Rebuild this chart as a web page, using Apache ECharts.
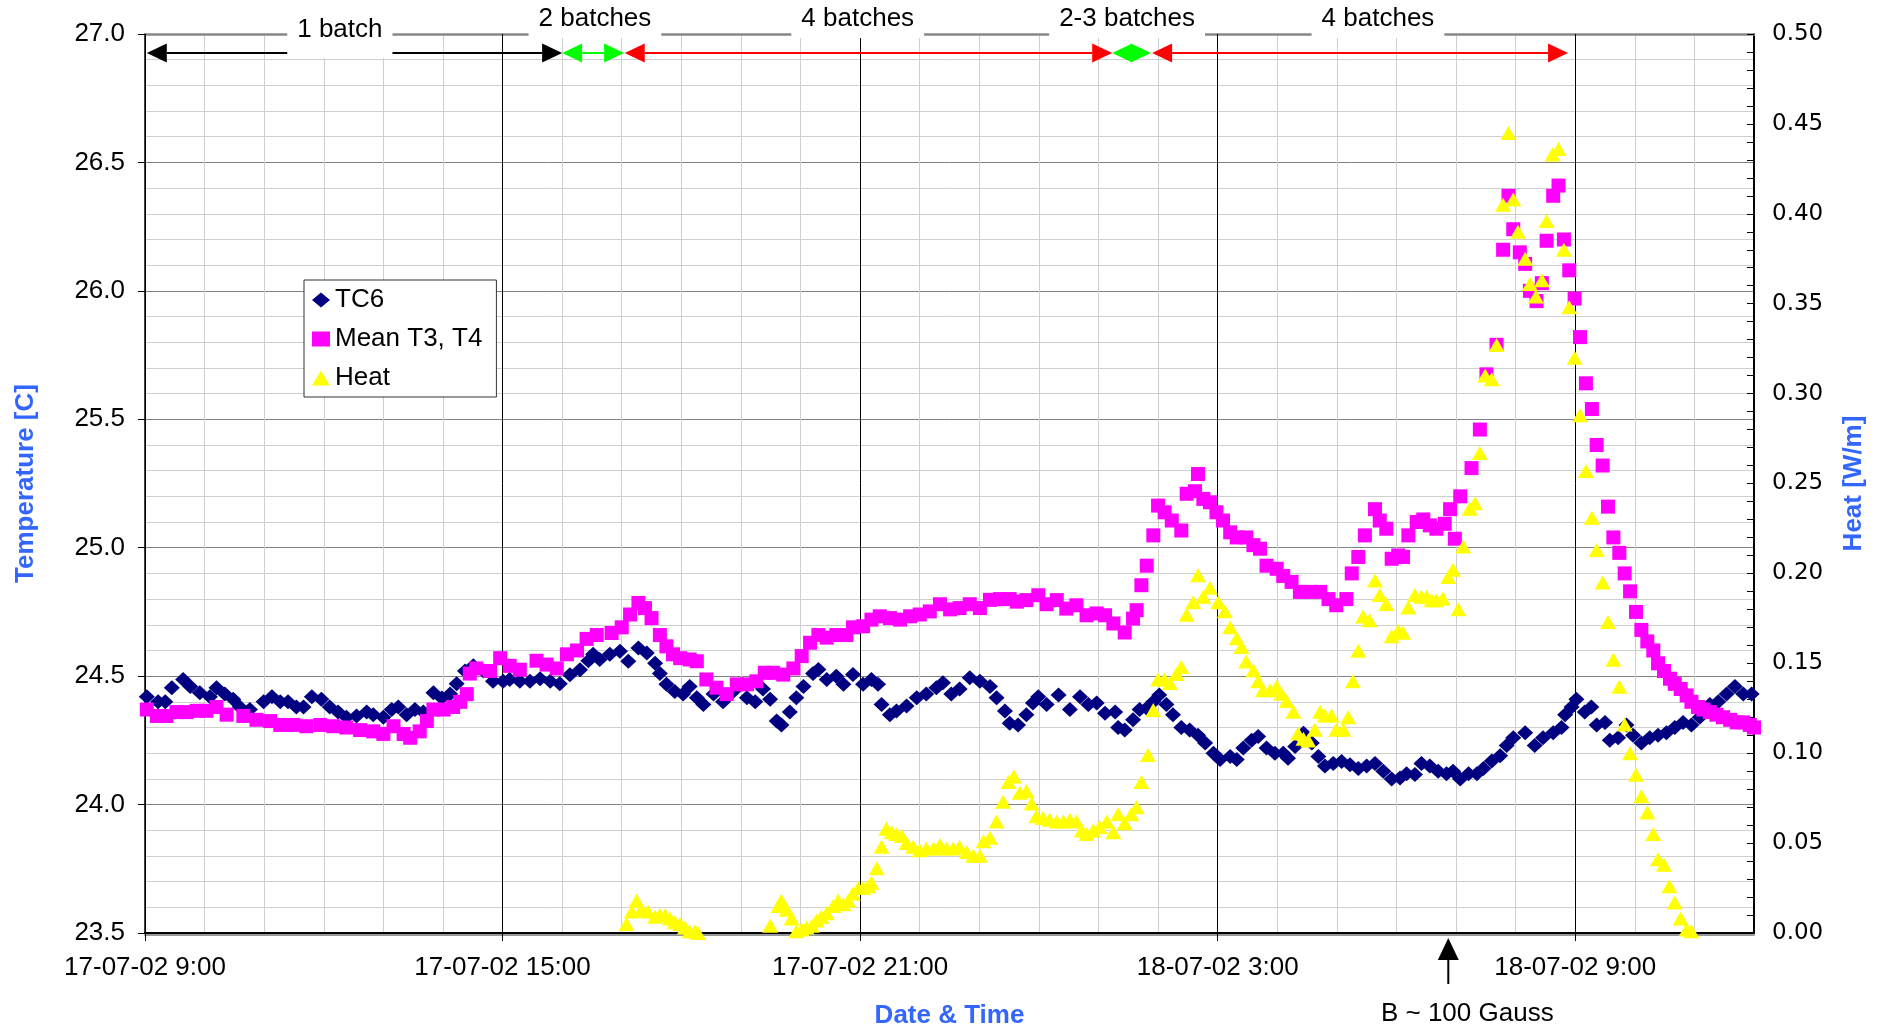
<!DOCTYPE html>
<html>
<head>
<meta charset="utf-8">
<title>TC6 / Mean T3, T4 / Heat</title>
<script src="https://cdn.jsdelivr.net/npm/echarts@6/dist/echarts.min.js"></script>
<style>
  html, body { margin: 0; padding: 0; background: #fff; }
  #chart { width: 1881px; height: 1034px; }
</style>
</head>
<body>
<div id="chart"></div>
<script>
// x values are hours after 17-07-02 9:00
const xTickHours = [0, 6, 12, 18, 24];
const xTickLabels = ['17-07-02 9:00', '17-07-02 15:00', '17-07-02 21:00', '18-07-02 3:00', '18-07-02 9:00'];

const tc6Hours = [
  0.03, 0.22, 0.34, 0.45, 0.64, 0.76, 0.92, 1.09, 1.20, 1.34,
  1.48, 1.59, 1.76, 1.99, 2.13, 2.27, 2.40, 2.54, 2.66, 2.80,
  2.96, 3.10, 3.24, 3.38, 3.55, 3.72, 3.83, 4.00, 4.14, 4.25,
  4.39, 4.53, 4.67, 4.84, 4.98, 5.12, 5.23, 5.37, 5.51, 5.68,
  5.84, 6.01, 6.12, 6.29, 6.46, 6.63, 6.80, 6.96, 7.13, 7.30,
  7.44, 7.52, 7.63, 7.80, 7.97, 8.11, 8.28, 8.42, 8.56, 8.64,
  8.75, 8.89, 9.03, 9.14, 9.26, 9.37, 9.54, 9.70, 9.87, 10.10,
  10.24, 10.37, 10.49, 10.60, 10.68, 10.82, 10.93, 11.05, 11.21, 11.30,
  11.44, 11.60, 11.72, 11.88, 12.05, 12.19, 12.30, 12.36, 12.50, 12.61,
  12.78, 12.95, 13.11, 13.28, 13.39, 13.53, 13.67, 13.84, 14.01, 14.18,
  14.29, 14.43, 14.51, 14.65, 14.79, 14.90, 14.99, 15.13, 15.33, 15.52,
  15.69, 15.83, 15.97, 16.11, 16.28, 16.33, 16.44, 16.58, 16.69, 16.81,
  16.92, 17.02, 17.14, 17.25, 17.39, 17.53, 17.67, 17.79, 17.93, 18.04,
  18.21, 18.32, 18.43, 18.57, 18.68, 18.82, 18.96, 19.10, 19.18, 19.30,
  19.44, 19.58, 19.69, 19.80, 19.94, 20.08, 20.22, 20.36, 20.50, 20.64,
  20.78, 20.92, 21.06, 21.17, 21.31, 21.42, 21.56, 21.70, 21.84, 21.95,
  22.07, 22.21, 22.35, 22.46, 22.60, 22.74, 22.85, 22.96, 23.16, 23.32,
  23.46, 23.63, 23.77, 23.83, 23.94, 24.02, 24.16, 24.27, 24.36, 24.50,
  24.58, 24.72, 24.86, 24.97, 25.11, 25.25, 25.39, 25.53, 25.67, 25.81,
  25.95, 26.09, 26.26, 26.40, 26.54, 26.68, 26.82, 26.96
];
const tc6Values = [
  24.42, 24.40, 24.40, 24.455, 24.487, 24.46, 24.435, 24.42, 24.455, 24.43,
  24.41, 24.38, 24.37, 24.40, 24.42, 24.40, 24.40, 24.38, 24.38, 24.42,
  24.41, 24.38, 24.36, 24.34, 24.345, 24.36, 24.35, 24.34, 24.37, 24.38,
  24.35, 24.37, 24.36, 24.435, 24.415, 24.43, 24.47, 24.52, 24.54, 24.52,
  24.48, 24.48, 24.487, 24.48, 24.48, 24.49, 24.48, 24.47, 24.505, 24.525,
  24.56, 24.585, 24.565, 24.585, 24.597, 24.558, 24.61, 24.59, 24.55, 24.51,
  24.468, 24.44, 24.43, 24.46, 24.416, 24.39, 24.43, 24.40, 24.44, 24.416,
  24.40, 24.45, 24.41, 24.325, 24.31, 24.36, 24.416, 24.46, 24.51, 24.526,
  24.487, 24.50, 24.468, 24.506, 24.468, 24.487, 24.468, 24.39, 24.35, 24.364,
  24.384, 24.416, 24.43, 24.455, 24.474, 24.43, 24.45, 24.494, 24.48, 24.46,
  24.416, 24.364, 24.317, 24.31, 24.35, 24.395, 24.42, 24.39, 24.427, 24.37,
  24.42, 24.39, 24.395, 24.356, 24.36, 24.30, 24.29, 24.33, 24.37, 24.375,
  24.40, 24.427, 24.39, 24.35, 24.30, 24.29, 24.27, 24.24, 24.20, 24.175,
  24.187, 24.175, 24.22, 24.25, 24.265, 24.22, 24.20, 24.20, 24.18, 24.226,
  24.278, 24.24, 24.187, 24.15, 24.16, 24.168, 24.155, 24.14, 24.15, 24.16,
  24.13, 24.10, 24.103, 24.12, 24.117, 24.16, 24.15, 24.13, 24.12, 24.13,
  24.10, 24.12, 24.12, 24.14, 24.17, 24.19, 24.23, 24.26, 24.28, 24.23,
  24.26, 24.28, 24.30, 24.35, 24.38, 24.41, 24.36, 24.38, 24.31, 24.32,
  24.25, 24.26, 24.31, 24.27, 24.24, 24.26, 24.27, 24.28, 24.30, 24.32,
  24.31, 24.34, 24.39, 24.40, 24.43, 24.46, 24.43, 24.43
];

const meanHours = [
  0.03, 0.20, 0.36, 0.53, 0.70, 0.87, 1.03, 1.20, 1.37, 1.65,
  1.87, 2.10, 2.27, 2.49, 2.71, 2.94, 3.16, 3.38, 3.61, 3.83,
  4.00, 4.17, 4.34, 4.45, 4.61, 4.73, 4.84, 5.01, 5.17, 5.29,
  5.40, 5.45, 5.56, 5.79, 5.96, 6.12, 6.29, 6.57, 6.74, 6.91,
  7.08, 7.25, 7.41, 7.58, 7.83, 8.00, 8.14, 8.28, 8.39, 8.50,
  8.64, 8.75, 8.86, 8.98, 9.14, 9.26, 9.42, 9.59, 9.76, 9.93,
  10.10, 10.26, 10.40, 10.54, 10.71, 10.88, 11.02, 11.16, 11.30, 11.44,
  11.60, 11.77, 11.88, 12.05, 12.19, 12.33, 12.50, 12.67, 12.84, 13.00,
  13.17, 13.34, 13.51, 13.67, 13.84, 14.01, 14.18, 14.35, 14.51, 14.63,
  14.79, 14.99, 15.13, 15.30, 15.46, 15.63, 15.80, 15.97, 16.11, 16.25,
  16.44, 16.58, 16.64, 16.72, 16.81, 16.92, 17.00, 17.11, 17.23, 17.39,
  17.48, 17.62, 17.67, 17.76, 17.87, 17.98, 18.09, 18.21, 18.32, 18.48,
  18.60, 18.71, 18.82, 18.99, 19.10, 19.24, 19.38, 19.55, 19.72, 19.86,
  19.99, 20.16, 20.25, 20.36, 20.47, 20.64, 20.72, 20.83, 20.92, 21.03,
  21.11, 21.20, 21.34, 21.45, 21.56, 21.67, 21.81, 21.90, 21.98, 22.07,
  22.26, 22.40, 22.51, 22.68, 22.79, 22.88, 22.96, 23.07, 23.16, 23.24,
  23.35, 23.44, 23.52, 23.63, 23.72, 23.81, 23.90, 23.99, 24.08, 24.18,
  24.28, 24.36, 24.46, 24.55, 24.64, 24.74, 24.83, 24.92, 25.02, 25.11,
  25.21, 25.31, 25.39, 25.49, 25.59, 25.67, 25.77, 25.87, 25.95, 26.06,
  26.15, 26.26, 26.37, 26.48, 26.60, 26.71, 26.82, 26.93, 27.00
];
const meanValues = [
  24.37, 24.345, 24.345, 24.36, 24.36, 24.365, 24.365, 24.38, 24.35, 24.345,
  24.33, 24.325, 24.31, 24.31, 24.305, 24.31, 24.305, 24.30, 24.29, 24.285,
  24.275, 24.305, 24.275, 24.26, 24.285, 24.325, 24.37, 24.37, 24.38, 24.40,
  24.43, 24.51, 24.53, 24.52, 24.57, 24.54, 24.525, 24.56, 24.545, 24.53,
  24.585, 24.60, 24.645, 24.66, 24.668, 24.69, 24.74, 24.785, 24.765, 24.726,
  24.66, 24.616, 24.585, 24.57, 24.565, 24.558, 24.487, 24.455, 24.43, 24.468,
  24.468, 24.48, 24.513, 24.513, 24.506, 24.53, 24.578, 24.63, 24.66, 24.65,
  24.66, 24.66, 24.69, 24.694, 24.72, 24.733, 24.726, 24.72, 24.733, 24.74,
  24.752, 24.78, 24.76, 24.765, 24.78, 24.765, 24.797, 24.80, 24.80, 24.79,
  24.796, 24.815, 24.78, 24.796, 24.763, 24.776, 24.737, 24.744, 24.737, 24.705,
  24.67, 24.724, 24.757, 24.854, 24.93, 25.048, 25.164, 25.138, 25.106, 25.067,
  25.21, 25.22, 25.287, 25.19, 25.177, 25.138, 25.106, 25.06, 25.04, 25.04,
  25.01, 24.996, 24.93, 24.918, 24.89, 24.867, 24.828, 24.828, 24.828, 24.80,
  24.776, 24.80, 24.90, 24.964, 25.048, 25.15, 25.106, 25.074, 24.957, 24.97,
  24.964, 25.048, 25.10, 25.11, 25.087, 25.074, 25.093, 25.15, 25.035, 25.20,
  25.31, 25.46, 25.675, 25.79, 26.16, 26.37, 26.24, 26.15, 26.105, 26.00,
  25.96, 26.03, 26.195, 26.37, 26.41, 26.20, 26.08, 25.97, 25.82, 25.64,
  25.54, 25.40, 25.32, 25.16, 25.04, 24.98, 24.90, 24.83, 24.75, 24.68,
  24.635, 24.60, 24.55, 24.52, 24.49, 24.47, 24.45, 24.425, 24.40, 24.38,
  24.37, 24.36, 24.35, 24.34, 24.33, 24.32, 24.32, 24.31, 24.30
];

const heatHours = [
  8.08, 8.17, 8.25, 8.33, 8.44, 8.56, 8.64, 8.73, 8.81, 8.89,
  8.98, 9.06, 9.14, 9.23, 9.28, 10.49, 10.63, 10.68, 10.77, 10.85,
  10.93, 11.02, 11.10, 11.19, 11.27, 11.35, 11.44, 11.55, 11.63, 11.72,
  11.80, 11.88, 11.97, 12.05, 12.14, 12.19, 12.28, 12.36, 12.44, 12.53,
  12.61, 12.70, 12.78, 12.89, 13.00, 13.11, 13.23, 13.34, 13.45, 13.56,
  13.67, 13.79, 13.90, 14.01, 14.07, 14.18, 14.29, 14.40, 14.49, 14.58,
  14.68, 14.79, 14.88, 14.96, 15.07, 15.18, 15.30, 15.41, 15.52, 15.63,
  15.72, 15.80, 15.91, 16.02, 16.14, 16.25, 16.33, 16.44, 16.55, 16.64,
  16.72, 16.83, 16.92, 17.00, 17.11, 17.20, 17.31, 17.39, 17.48, 17.59,
  17.67, 17.76, 17.87, 18.01, 18.12, 18.21, 18.32, 18.40, 18.48, 18.60,
  18.68, 18.76, 18.88, 18.99, 19.07, 19.16, 19.27, 19.35, 19.44, 19.52,
  19.63, 19.72, 19.80, 19.91, 19.99, 20.11, 20.19, 20.27, 20.36, 20.44,
  20.55, 20.64, 20.72, 20.83, 20.92, 21.03, 21.11, 21.20, 21.31, 21.42,
  21.51, 21.59, 21.67, 21.78, 21.87, 21.95, 22.04, 22.12, 22.23, 22.32,
  22.40, 22.49, 22.60, 22.68, 22.79, 22.88, 22.96, 23.04, 23.16, 23.24,
  23.34, 23.44, 23.52, 23.62, 23.72, 23.81, 23.90, 23.99, 24.08, 24.18,
  24.28, 24.36, 24.46, 24.55, 24.64, 24.74, 24.83, 24.92, 25.02, 25.11,
  25.21, 25.31, 25.39, 25.49, 25.58, 25.67, 25.77, 25.87, 25.95
];
const heatValues = [
  0.005, 0.012, 0.018, 0.013, 0.012, 0.009, 0.010, 0.010, 0.008, 0.006,
  0.005, 0.003, 0.001, 0.001, 0.000, 0.004, 0.015, 0.018, 0.013, 0.008,
  0.001, 0.002, 0.003, 0.004, 0.007, 0.009, 0.011, 0.015, 0.018, 0.016,
  0.018, 0.022, 0.025, 0.025, 0.026, 0.028, 0.036, 0.048, 0.058, 0.056,
  0.055, 0.054, 0.050, 0.048, 0.046, 0.047, 0.047, 0.049, 0.047, 0.047,
  0.048, 0.045, 0.043, 0.043, 0.051, 0.053, 0.062, 0.073, 0.084, 0.087,
  0.078, 0.079, 0.072, 0.065, 0.064, 0.063, 0.062, 0.062, 0.063, 0.062,
  0.057, 0.055, 0.057, 0.059, 0.062, 0.056, 0.066, 0.061, 0.066, 0.070,
  0.084, 0.099, 0.124, 0.141, 0.141, 0.139, 0.144, 0.148, 0.177, 0.184,
  0.199, 0.187, 0.192, 0.184, 0.179, 0.170, 0.164, 0.159, 0.151, 0.146,
  0.140, 0.135, 0.135, 0.137, 0.133, 0.129, 0.123, 0.111, 0.108, 0.107,
  0.113, 0.123, 0.121, 0.121, 0.113, 0.113, 0.120, 0.140, 0.157, 0.176,
  0.174, 0.196, 0.188, 0.183, 0.165, 0.168, 0.167, 0.181, 0.188, 0.187,
  0.187, 0.185, 0.185, 0.186, 0.198, 0.202, 0.180, 0.215, 0.236, 0.239,
  0.267, 0.310, 0.308, 0.327, 0.405, 0.445, 0.408, 0.390, 0.375, 0.361,
  0.354, 0.363, 0.396, 0.433, 0.436, 0.380, 0.348, 0.320, 0.288, 0.257,
  0.231, 0.213, 0.195, 0.173, 0.152, 0.137, 0.116, 0.100, 0.088, 0.076,
  0.067, 0.055, 0.041, 0.038, 0.026, 0.017, 0.008, 0.002, 0.001
];

// batch annotations along the top of the plot
const batchStart = [0.03, 7.0, 8.05, 16.23, 16.9];
const batchEnd = [7.0, 8.04, 16.23, 16.88, 23.88];
const batchColor = ['#000000', '#00ff00', '#ff0000', '#00ff00', '#ff0000'];
const batchLabels = ['1 batch', '2 batches', '4 batches', '2-3 batches', '4 batches'];
const batchLabelHours = [3.27, 7.55, 11.96, 16.48, 20.69];
const fieldHour = 21.87;
const fieldLabel = 'B ~ 100 Gauss';

const FONT = '"Liberation Sans", Arial, Helvetica, sans-serif';
const BLUE = '#3366ff';

const zip = (hs, vs) => hs.map((h, i) => [h, vs[i]]);

const chart = echarts.init(document.getElementById('chart'));

function renderArrow(params, api) {
  const i = params.dataIndex;
  const a = api.coord([api.value(0), api.value(2)]);
  const b = api.coord([api.value(1), api.value(2)]);
  const y = a[1] + 19;
  const color = batchColor[i];
  const head = 20, half = 9.5;
  const children = [];
  if (b[0] - a[0] > 2 * head) {
    children.push({ type: 'line', shape: { x1: a[0] + head, y1: y, x2: b[0] - head, y2: y },
      style: { stroke: color, lineWidth: 2 } });
  }
  children.push({ type: 'polygon', shape: { points: [[a[0], y], [a[0] + head, y - half], [a[0] + head, y + half]] },
    style: { fill: color } });
  children.push({ type: 'polygon', shape: { points: [[b[0], y], [b[0] - head, y - half], [b[0] - head, y + half]] },
    style: { fill: color } });
  return { type: 'group', children };
}

function renderBatchLabel(params, api) {
  const i = params.dataIndex;
  const p = api.coord([api.value(0), api.value(1)]);
  const low = i === 0;
  return {
    type: 'text',
    x: p[0],
    y: p[1] + (low ? -21 : -32),
    style: {
      text: batchLabels[i],
      font: '26px ' + FONT,
      fill: '#000',
      align: 'center',
      verticalAlign: 'top',
      lineHeight: 28,
      backgroundColor: '#ffffff',
      padding: low ? [3, 10, 14, 10] : [3, 10, 5, 10]
    }
  };
}

function renderField(params, api) {
  const p = api.coord([api.value(0), api.value(1)]);
  const x = p[0], y = p[1];
  return {
    type: 'group',
    children: [
      { type: 'polygon', shape: { points: [[x, y + 5], [x - 10.5, y + 27], [x + 10.5, y + 27]] }, style: { fill: '#000' } },
      { type: 'line', shape: { x1: x, y1: y + 26, x2: x, y2: y + 51 }, style: { stroke: '#000', lineWidth: 2 } },
      { type: 'text', x: x + 19, y: y + 81,
        style: { text: fieldLabel, font: '26px ' + FONT, fill: '#000', align: 'center', verticalAlign: 'middle' } }
    ]
  };
}

const options = {
  animation: false,
  backgroundColor: '#ffffff',
  grid: { left: 145, right: 127, top: 34, bottom: 98 },
  legend: {
    orient: 'vertical',
    left: 304,
    top: 280,
    data: ['TC6', 'Mean T3, T4', 'Heat'],
    itemWidth: 18,
    itemHeight: 15,
    itemGap: 9,
    padding: [5, 14, 4, 8],
    backgroundColor: '#ffffff',
    borderColor: '#333',
    borderWidth: 1,
    borderRadius: 0,
    selectedMode: false,
    textStyle: { fontFamily: FONT, fontSize: 26, color: '#000', lineHeight: 30 }
  },
  xAxis: [
    {
      // top border + hourly minor grid
      type: 'value', position: 'top', min: 0, max: 27, interval: 1,
      axisLine: { show: true, onZero: false, lineStyle: { color: '#888', width: 2.5 } },
      axisTick: { show: false },
      axisLabel: { show: false },
      splitLine: { show: true, lineStyle: { color: '#cfcfcf', width: 1 } }
    },
    {
      type: 'value', position: 'bottom', min: 0, max: 27, interval: 6, z: 1,
      name: 'Date & Time', nameLocation: 'middle', nameGap: 70,
      nameTextStyle: { fontFamily: FONT, fontSize: 26, fontWeight: 'bold', color: BLUE },
      axisLine: { show: true, onZero: false,
        lineStyle: { color: '#000', width: 2, shadowColor: '#999', shadowOffsetY: 2, shadowBlur: 0 } },
      axisTick: { show: true, inside: false, length: 8, lineStyle: { color: '#000', width: 1 }, customValues: xTickHours },
      axisLabel: {
        fontFamily: FONT, fontSize: 26, color: '#000', margin: 22,
        formatter: (v) => {
          const i = xTickHours.indexOf(Math.round(v * 100) / 100);
          return i >= 0 ? xTickLabels[i] : '';
        }
      },
      splitLine: { show: true, lineStyle: { color: '#000', width: 1 } }
    }
  ],
  yAxis: [
    {
      type: 'value', position: 'left', min: 23.5, max: 27, interval: 0.5,
      name: 'Temperature [C]', nameLocation: 'middle', nameGap: 106, nameRotate: 90,
      nameTextStyle: { fontFamily: FONT, fontSize: 26, fontWeight: 'bold', color: BLUE },
      axisLine: { show: true, onZero: false, lineStyle: { color: '#000', width: 1.5 } },
      axisTick: { show: true, inside: false, length: 7, lineStyle: { color: '#000' } },
      axisLabel: { fontFamily: FONT, fontSize: 26, color: '#000', margin: 20, formatter: (v) => v.toFixed(1) },
      splitLine: { show: true, lineStyle: { color: '#808080', width: 1 } },
      minorTick: { show: false, splitNumber: 5 },
      minorSplitLine: { show: true, lineStyle: { color: '#cfcfcf', width: 1 } }
    },
    {
      type: 'value', position: 'right', min: 0, max: 0.5, interval: 0.05,
      name: 'Heat [W/m]', nameLocation: 'middle', nameGap: 87, nameRotate: 90,
      nameTextStyle: { fontFamily: FONT, fontSize: 26, fontWeight: 'bold', color: BLUE },
      axisLine: { show: true, onZero: false, lineStyle: { color: '#000', width: 2 } },
      axisTick: { show: true, inside: true, length: 7, lineStyle: { color: '#000' } },
      minorTick: { show: true, splitNumber: 5, length: 7, lineStyle: { color: '#000' } },
      axisLabel: { fontFamily: '"DejaVu Sans", Verdana, sans-serif', fontSize: 23, color: '#000', margin: 18,
        formatter: (v) => v.toFixed(2) },
      splitLine: { show: false }
    }
  ],
  series: [
    {
      name: 'TC6', type: 'scatter', xAxisIndex: 1, yAxisIndex: 0,
      symbol: 'diamond', symbolSize: [16, 15], silent: true,
      itemStyle: { color: '#000080', opacity: 1 },
      data: zip(tc6Hours, tc6Values)
    },
    {
      name: 'Mean T3, T4', type: 'scatter', xAxisIndex: 1, yAxisIndex: 0,
      symbol: 'rect', symbolSize: 14, silent: true,
      itemStyle: { color: '#ff00ff', opacity: 1 },
      data: zip(meanHours, meanValues)
    },
    {
      name: 'Heat', type: 'scatter', xAxisIndex: 1, yAxisIndex: 1,
      symbol: 'triangle', symbolSize: [16, 14], silent: true,
      itemStyle: { color: '#ffff00', opacity: 1 },
      data: zip(heatHours, heatValues)
    },
    {
      type: 'custom', xAxisIndex: 1, yAxisIndex: 0, silent: true, clip: false, z: 5,
      renderItem: renderArrow,
      encode: { x: [0, 1], y: 2 },
      data: batchStart.map((s, i) => [s, batchEnd[i], 27])
    },
    {
      type: 'custom', xAxisIndex: 1, yAxisIndex: 0, silent: true, clip: false, z: 6,
      renderItem: renderBatchLabel,
      data: batchLabelHours.map((h) => [h, 27])
    },
    {
      type: 'custom', xAxisIndex: 1, yAxisIndex: 0, silent: true, clip: false, z: 6,
      renderItem: renderField,
      data: [[fieldHour, 23.5]]
    }
  ]
};

chart.setOption(options);
</script>
</body>
</html>
